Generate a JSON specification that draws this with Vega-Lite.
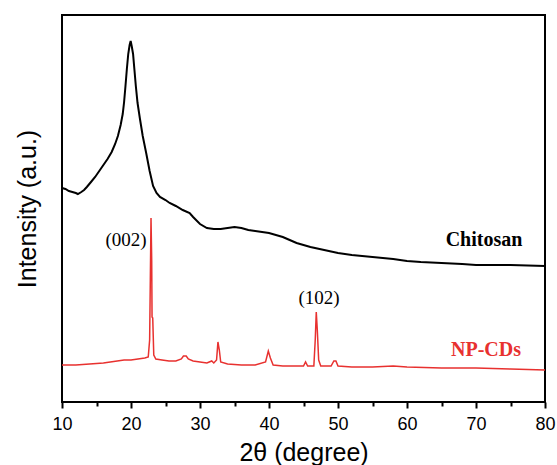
{
  "$schema": "https://vega.github.io/schema/vega-lite/v6.json",
  "width": 483,
  "height": 387,
  "autosize": "none",
  "padding": {"left": 62, "top": 15, "right": 12, "bottom": 63},
  "background": "white",
  "config": {
    "view": {"stroke": "#000000", "strokeWidth": 2},
    "font": "Liberation Sans"
  },
  "datasets": {
    "xrd": [
      {"sample": "Chitosan", "angle": 10, "intensity": 214},
      {"sample": "Chitosan", "angle": 10.5, "intensity": 213},
      {"sample": "Chitosan", "angle": 11, "intensity": 211},
      {"sample": "Chitosan", "angle": 11.5, "intensity": 210},
      {"sample": "Chitosan", "angle": 12, "intensity": 209},
      {"sample": "Chitosan", "angle": 12.3, "intensity": 208},
      {"sample": "Chitosan", "angle": 12.8, "intensity": 210},
      {"sample": "Chitosan", "angle": 13.2, "intensity": 212},
      {"sample": "Chitosan", "angle": 13.6, "intensity": 215},
      {"sample": "Chitosan", "angle": 14.2, "intensity": 220},
      {"sample": "Chitosan", "angle": 14.8, "intensity": 225},
      {"sample": "Chitosan", "angle": 15.5, "intensity": 232},
      {"sample": "Chitosan", "angle": 16.0, "intensity": 237},
      {"sample": "Chitosan", "angle": 16.6, "intensity": 243},
      {"sample": "Chitosan", "angle": 17.2, "intensity": 250},
      {"sample": "Chitosan", "angle": 17.7, "intensity": 258},
      {"sample": "Chitosan", "angle": 18.1, "intensity": 266},
      {"sample": "Chitosan", "angle": 18.5, "intensity": 277},
      {"sample": "Chitosan", "angle": 18.8, "intensity": 288},
      {"sample": "Chitosan", "angle": 19.0, "intensity": 300},
      {"sample": "Chitosan", "angle": 19.2, "intensity": 316},
      {"sample": "Chitosan", "angle": 19.4, "intensity": 333},
      {"sample": "Chitosan", "angle": 19.6, "intensity": 348},
      {"sample": "Chitosan", "angle": 19.8, "intensity": 357},
      {"sample": "Chitosan", "angle": 19.95, "intensity": 361},
      {"sample": "Chitosan", "angle": 20.1, "intensity": 356},
      {"sample": "Chitosan", "angle": 20.3, "intensity": 348},
      {"sample": "Chitosan", "angle": 20.5, "intensity": 332},
      {"sample": "Chitosan", "angle": 20.7, "intensity": 316},
      {"sample": "Chitosan", "angle": 20.95, "intensity": 299},
      {"sample": "Chitosan", "angle": 21.3, "intensity": 283},
      {"sample": "Chitosan", "angle": 21.7, "intensity": 266},
      {"sample": "Chitosan", "angle": 22.2, "intensity": 249},
      {"sample": "Chitosan", "angle": 22.7, "intensity": 231},
      {"sample": "Chitosan", "angle": 23.2, "intensity": 216},
      {"sample": "Chitosan", "angle": 23.7, "intensity": 209},
      {"sample": "Chitosan", "angle": 24.2, "intensity": 205},
      {"sample": "Chitosan", "angle": 25.0, "intensity": 202},
      {"sample": "Chitosan", "angle": 25.6, "intensity": 199},
      {"sample": "Chitosan", "angle": 26.5, "intensity": 196},
      {"sample": "Chitosan", "angle": 27.5, "intensity": 192},
      {"sample": "Chitosan", "angle": 28.5, "intensity": 189},
      {"sample": "Chitosan", "angle": 29, "intensity": 185},
      {"sample": "Chitosan", "angle": 30, "intensity": 178},
      {"sample": "Chitosan", "angle": 31, "intensity": 174},
      {"sample": "Chitosan", "angle": 32, "intensity": 173},
      {"sample": "Chitosan", "angle": 33, "intensity": 173},
      {"sample": "Chitosan", "angle": 34, "intensity": 174},
      {"sample": "Chitosan", "angle": 35, "intensity": 175},
      {"sample": "Chitosan", "angle": 36, "intensity": 174},
      {"sample": "Chitosan", "angle": 37, "intensity": 172},
      {"sample": "Chitosan", "angle": 38, "intensity": 171},
      {"sample": "Chitosan", "angle": 39, "intensity": 170},
      {"sample": "Chitosan", "angle": 40, "intensity": 169},
      {"sample": "Chitosan", "angle": 41, "intensity": 167},
      {"sample": "Chitosan", "angle": 42, "intensity": 165},
      {"sample": "Chitosan", "angle": 43, "intensity": 162},
      {"sample": "Chitosan", "angle": 44, "intensity": 159},
      {"sample": "Chitosan", "angle": 45, "intensity": 157},
      {"sample": "Chitosan", "angle": 46, "intensity": 155},
      {"sample": "Chitosan", "angle": 48, "intensity": 152},
      {"sample": "Chitosan", "angle": 50, "intensity": 149},
      {"sample": "Chitosan", "angle": 52, "intensity": 147},
      {"sample": "Chitosan", "angle": 55, "intensity": 145},
      {"sample": "Chitosan", "angle": 58, "intensity": 143},
      {"sample": "Chitosan", "angle": 60, "intensity": 141},
      {"sample": "Chitosan", "angle": 62, "intensity": 140},
      {"sample": "Chitosan", "angle": 65, "intensity": 139},
      {"sample": "Chitosan", "angle": 68, "intensity": 138},
      {"sample": "Chitosan", "angle": 70, "intensity": 137},
      {"sample": "Chitosan", "angle": 75, "intensity": 137},
      {"sample": "Chitosan", "angle": 80, "intensity": 136},
      {"sample": "NP-CDs", "angle": 10, "intensity": 37},
      {"sample": "NP-CDs", "angle": 12, "intensity": 37},
      {"sample": "NP-CDs", "angle": 14, "intensity": 38},
      {"sample": "NP-CDs", "angle": 16, "intensity": 39},
      {"sample": "NP-CDs", "angle": 18, "intensity": 41},
      {"sample": "NP-CDs", "angle": 19, "intensity": 42},
      {"sample": "NP-CDs", "angle": 20, "intensity": 42},
      {"sample": "NP-CDs", "angle": 21, "intensity": 43},
      {"sample": "NP-CDs", "angle": 22, "intensity": 44},
      {"sample": "NP-CDs", "angle": 22.5, "intensity": 45},
      {"sample": "NP-CDs", "angle": 22.7, "intensity": 62},
      {"sample": "NP-CDs", "angle": 22.8, "intensity": 122},
      {"sample": "NP-CDs", "angle": 22.9, "intensity": 184},
      {"sample": "NP-CDs", "angle": 23.0, "intensity": 142},
      {"sample": "NP-CDs", "angle": 23.05, "intensity": 85},
      {"sample": "NP-CDs", "angle": 23.15, "intensity": 84},
      {"sample": "NP-CDs", "angle": 23.3, "intensity": 47},
      {"sample": "NP-CDs", "angle": 23.6, "intensity": 43},
      {"sample": "NP-CDs", "angle": 24.5, "intensity": 42},
      {"sample": "NP-CDs", "angle": 25.5, "intensity": 41},
      {"sample": "NP-CDs", "angle": 26.5, "intensity": 41},
      {"sample": "NP-CDs", "angle": 27.3, "intensity": 43},
      {"sample": "NP-CDs", "angle": 27.6, "intensity": 46},
      {"sample": "NP-CDs", "angle": 28.0, "intensity": 46},
      {"sample": "NP-CDs", "angle": 28.3, "intensity": 43},
      {"sample": "NP-CDs", "angle": 29, "intensity": 41},
      {"sample": "NP-CDs", "angle": 30, "intensity": 40},
      {"sample": "NP-CDs", "angle": 31, "intensity": 39},
      {"sample": "NP-CDs", "angle": 31.7, "intensity": 41},
      {"sample": "NP-CDs", "angle": 32.0, "intensity": 39},
      {"sample": "NP-CDs", "angle": 32.4, "intensity": 42},
      {"sample": "NP-CDs", "angle": 32.6, "intensity": 60},
      {"sample": "NP-CDs", "angle": 32.8, "intensity": 52},
      {"sample": "NP-CDs", "angle": 33.0, "intensity": 40},
      {"sample": "NP-CDs", "angle": 34, "intensity": 38},
      {"sample": "NP-CDs", "angle": 36, "intensity": 37},
      {"sample": "NP-CDs", "angle": 38, "intensity": 37},
      {"sample": "NP-CDs", "angle": 39.5, "intensity": 40},
      {"sample": "NP-CDs", "angle": 39.9, "intensity": 51},
      {"sample": "NP-CDs", "angle": 40.2, "intensity": 44},
      {"sample": "NP-CDs", "angle": 40.6, "intensity": 37},
      {"sample": "NP-CDs", "angle": 42, "intensity": 36},
      {"sample": "NP-CDs", "angle": 44, "intensity": 36},
      {"sample": "NP-CDs", "angle": 45.0, "intensity": 36},
      {"sample": "NP-CDs", "angle": 45.3, "intensity": 40},
      {"sample": "NP-CDs", "angle": 45.6, "intensity": 36},
      {"sample": "NP-CDs", "angle": 46.5, "intensity": 36},
      {"sample": "NP-CDs", "angle": 46.7, "intensity": 62},
      {"sample": "NP-CDs", "angle": 46.85, "intensity": 90},
      {"sample": "NP-CDs", "angle": 47.0, "intensity": 72},
      {"sample": "NP-CDs", "angle": 47.2, "intensity": 42},
      {"sample": "NP-CDs", "angle": 47.5, "intensity": 36},
      {"sample": "NP-CDs", "angle": 49.0, "intensity": 36},
      {"sample": "NP-CDs", "angle": 49.4, "intensity": 41},
      {"sample": "NP-CDs", "angle": 49.7, "intensity": 41},
      {"sample": "NP-CDs", "angle": 50.0, "intensity": 36},
      {"sample": "NP-CDs", "angle": 52, "intensity": 35},
      {"sample": "NP-CDs", "angle": 55, "intensity": 35},
      {"sample": "NP-CDs", "angle": 58, "intensity": 36},
      {"sample": "NP-CDs", "angle": 60, "intensity": 35},
      {"sample": "NP-CDs", "angle": 65, "intensity": 34},
      {"sample": "NP-CDs", "angle": 70, "intensity": 34},
      {"sample": "NP-CDs", "angle": 75, "intensity": 33},
      {"sample": "NP-CDs", "angle": 80, "intensity": 32}
    ],
    "labels": [
      {"text": "(002)", "angle": 19.28, "intensity": 162, "kind": "peak"},
      {"text": "(102)", "angle": 47.25, "intensity": 104, "kind": "peak"},
      {"text": "Chitosan", "angle": 71.16, "intensity": 162, "kind": "Chitosan"},
      {"text": "NP-CDs", "angle": 71.45, "intensity": 52, "kind": "NP-CDs"}
    ]
  },
  "encoding": {
    "x": {
      "field": "angle",
      "type": "quantitative",
      "scale": {"domain": [10, 80], "nice": false, "zero": false},
      "axis": {
        "title": "2θ (degree)",
        "values": [10, 15, 20, 25, 30, 35, 40, 45, 50, 55, 60, 65, 70, 75, 80],
        "labelExpr": "datum.value % 10 === 0 ? datum.label : ''",
        "grid": false,
        "domain": false,
        "tickColor": "#000000",
        "tickWidth": 2,
        "tickSize": {"condition": {"test": "datum.value % 10 === 0", "value": 6}, "value": 4},
        "labelFont": "Liberation Sans",
        "labelFontSize": 18,
        "labelColor": "#000000",
        "labelPadding": 7,
        "labelFlush": false,
        "labelOverlap": false,
        "titleFont": "Liberation Sans",
        "titleFontSize": 25,
        "titleFontWeight": "normal",
        "titleColor": "#000000",
        "titlePadding": 7
      }
    },
    "y": {
      "field": "intensity",
      "type": "quantitative",
      "scale": {"domain": [0, 387], "nice": false, "zero": false},
      "axis": {
        "title": "Intensity (a.u.)",
        "ticks": false,
        "labels": false,
        "grid": false,
        "domain": false,
        "titleFont": "Liberation Sans",
        "titleFontSize": 25,
        "titleFontWeight": "normal",
        "titleColor": "#000000",
        "titlePadding": 22
      }
    }
  },
  "layer": [
    {
      "data": {"name": "xrd"},
      "transform": [{"filter": "datum.sample === 'Chitosan'"}],
      "mark": {"type": "line", "color": "#000000", "strokeWidth": 2, "interpolate": "linear"}
    },
    {
      "data": {"name": "xrd"},
      "transform": [{"filter": "datum.sample === 'NP-CDs'"}],
      "mark": {"type": "line", "color": "#e8312f", "strokeWidth": 1.5, "interpolate": "linear"}
    },
    {
      "data": {"name": "labels"},
      "transform": [{"filter": "datum.kind === 'peak'"}],
      "mark": {"type": "text", "font": "Liberation Serif", "fontSize": 19, "color": "#000000", "align": "center", "baseline": "middle"},
      "encoding": {"text": {"field": "text"}}
    },
    {
      "data": {"name": "labels"},
      "transform": [{"filter": "datum.kind === 'Chitosan'"}],
      "mark": {"type": "text", "font": "Liberation Serif", "fontSize": 20, "fontWeight": "bold", "color": "#000000", "align": "center", "baseline": "middle"},
      "encoding": {"text": {"field": "text"}}
    },
    {
      "data": {"name": "labels"},
      "transform": [{"filter": "datum.kind === 'NP-CDs'"}],
      "mark": {"type": "text", "font": "Liberation Serif", "fontSize": 20, "fontWeight": "bold", "color": "#e8312f", "align": "center", "baseline": "middle"},
      "encoding": {"text": {"field": "text"}}
    }
  ]
}
